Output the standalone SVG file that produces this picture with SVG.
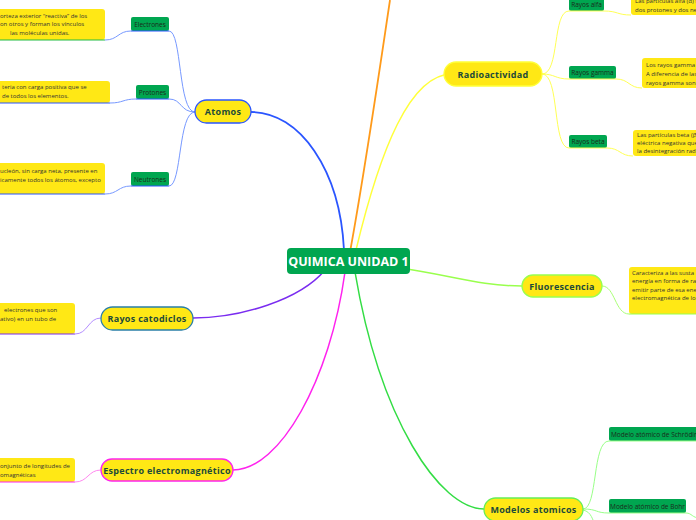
<svg xmlns="http://www.w3.org/2000/svg" width="696" height="520" viewBox="0 0 696 520">
<style>
.desc{fill:#ffe815}
.dt{font-family:"Open Sans","Liberation Sans",sans-serif;font-size:6px;fill:#333}
.sub{fill:#00a650}
.st{font-family:"Open Sans","Liberation Sans",sans-serif;font-size:6.5px;fill:#1b2a1b;text-anchor:middle}
.pt{font-family:"Open Sans","Liberation Sans",sans-serif;font-size:9px;font-weight:bold;fill:#1d4a3a;text-anchor:middle;letter-spacing:0.3px}
.pill{fill:#ffe815;stroke-width:1.3}
path{fill:none}
</style>
<rect width="696" height="520" fill="#ffffff"/>
<g id="connectors">
<path d="M344,250 C340,170 300,112 251,112" stroke="#2a55ff" stroke-width="1.8"/>
<path d="M350,252 C365,170 378,80 390,0" stroke="#ff9a1a" stroke-width="1.8"/>
<path d="M356,250 C380,150 410,74 452,74" stroke="#ffff3a" stroke-width="1.5"/>
<path d="M400,268 C450,275 480,286 522,286" stroke="#99ff4d" stroke-width="1.5"/>
<path d="M325,270 C300,300 240,318 193,318" stroke="#7a2cf0" stroke-width="1.5"/>
<path d="M345,272 C330,380 280,470 233,470" stroke="#ff22ee" stroke-width="1.5"/>
<path d="M355,272 C380,420 440,509 484,509" stroke="#33dd44" stroke-width="1.5"/>
<path d="M169,31 C182,31 178,112 195,112" stroke="#7799ff" stroke-width="1"/>
<path d="M169,99 C182,99 180,112 195,112" stroke="#7799ff" stroke-width="1"/>
<path d="M169,186 C182,186 178,112 195,112" stroke="#7799ff" stroke-width="1"/>
<path d="M131,31 C118,31 118,40 105,40" stroke="#7799ff" stroke-width="1"/>
<path d="M136,99 C123,99 123,103 110,103" stroke="#7799ff" stroke-width="1"/>
<path d="M131,186 C118,186 118,194 105,194" stroke="#7799ff" stroke-width="1"/>
<path d="M101,318 C88,318 88,334 75,334" stroke="#b38cff" stroke-width="1"/>
<path d="M101,470 C88,470 88,482 75,482" stroke="#ff88f0" stroke-width="1"/>
<path d="M542,74 C560,74 552,11 569,11" stroke="#ffff55" stroke-width="1"/>
<path d="M542,74 C555,74 555,79 569,79" stroke="#ffff55" stroke-width="1"/>
<path d="M542,74 C560,74 552,148 569,148" stroke="#ffff55" stroke-width="1"/>
<path d="M604,11 C618,11 617,15 631,15" stroke="#ffff55" stroke-width="1"/>
<path d="M616,79 C629,79 629,88 642,88" stroke="#ffff55" stroke-width="1"/>
<path d="M607,148 C620,148 620,156 633,156" stroke="#ffff55" stroke-width="1"/>
<path d="M602,286 C615,286 615,314 629,314" stroke="#aaff77" stroke-width="1"/>
<path d="M583,509 C598,509 592,441 609,441" stroke="#99ff88" stroke-width="1"/>
<path d="M583,509 C598,509 595,513 609,513" stroke="#99ff88" stroke-width="1"/>
<path d="M583,510 C592,512 592,520 596,526" stroke="#99ff88" stroke-width="1"/>
<path d="M686,513 C692,513 692,518 700,518" stroke="#99ff88" stroke-width="1"/>
</g>
<g id="central">
<rect x="287" y="248" width="123" height="26" rx="4" fill="#00a650"/>
<text x="348.5" y="265.5" font-family="'Open Sans','Liberation Sans',sans-serif" font-size="12.5" font-weight="bold" fill="#ffffff" text-anchor="middle">QUIMICA UNIDAD 1</text>
</g>
<g id="atomos">
<rect class="pill" x="195" y="100" width="56" height="23" rx="11.5" stroke="#2a55ff"/>
<text class="pt" x="223" y="115">Atomos</text>
</g>
<g id="electrones">
<rect class="sub" x="131" y="17" width="38" height="14" rx="2"/>
<line x1="131" y1="31" x2="169" y2="31" stroke="#2a55ff" stroke-width="1.2"/>
<text class="st" x="150" y="26.5">Electrones</text>
</g>
<g id="electrones-desc">
<rect class="desc" x="-10" y="9" width="115" height="31" rx="3"/>
<line x1="0" y1="40" x2="105" y2="40" stroke="#22bb44" stroke-width="1.2"/>
<text class="dt" x="0" y="17.5">orteza exterior “reactiva” de los</text>
<text class="dt" x="0" y="26">on otros y forman los vínculos</text>
<text class="dt" x="10" y="35">las moléculas unidas.</text>
</g>
<g id="protones">
<rect class="sub" x="136" y="85" width="33" height="14" rx="2"/>
<line x1="136" y1="99" x2="169" y2="99" stroke="#2a55ff" stroke-width="1.2"/>
<text class="st" x="152.5" y="94.5">Protones</text>
</g>
<g id="protones-desc">
<rect class="desc" x="-10" y="81" width="120" height="22" rx="3"/>
<line x1="0" y1="103" x2="110" y2="103" stroke="#2a55ff" stroke-width="1.2"/>
<text class="dt" x="2" y="89">teria con carga positiva que se</text>
<text class="dt" x="2" y="98">de todos los elementos.</text>
</g>
<g id="neutrones">
<rect class="sub" x="131" y="172" width="38" height="14" rx="2"/>
<line x1="131" y1="186" x2="169" y2="186" stroke="#2a55ff" stroke-width="1.2"/>
<text class="st" x="150" y="181.5">Neutrones</text>
</g>
<g id="neutrones-desc">
<rect class="desc" x="-10" y="163" width="115" height="31" rx="3"/>
<line x1="0" y1="194" x2="105" y2="194" stroke="#2a55ff" stroke-width="1.2"/>
<text class="dt" x="0" y="173">ucleón, sin carga neta, presente en</text>
<text class="dt" x="0" y="181.5">icamente todos los átomos, excepto</text>
</g>
<g id="rayos-catodiclos">
<rect class="pill" x="101" y="307" width="92" height="23" rx="11.5" stroke="#2a7fa8"/>
<text class="pt" x="147" y="322">Rayos catodiclos</text>
</g>
<g id="catodiclos-desc">
<rect class="desc" x="-10" y="303" width="85" height="31" rx="3"/>
<line x1="0" y1="334" x2="75" y2="334" stroke="#7a2cf0" stroke-width="1.2"/>
<text class="dt" x="4" y="312">electrones que son</text>
<text class="dt" x="0" y="321">ativo) en un tubo de</text>
</g>
<g id="espectro">
<rect class="pill" x="101" y="459" width="132" height="22" rx="11" stroke="#ff22ee"/>
<text class="pt" x="167" y="473.5">Espectro electromagnético</text>
</g>
<g id="espectro-desc">
<rect class="desc" x="-10" y="458" width="85" height="24" rx="3"/>
<line x1="0" y1="482" x2="75" y2="482" stroke="#ff22ee" stroke-width="1.2"/>
<text class="dt" x="0" y="468">onjunto de longitudes de</text>
<text class="dt" x="0" y="477">omagnéticas</text>
</g>
<g id="radioactividad">
<rect class="pill" x="444" y="62" width="98" height="24" rx="12" stroke="#ffff3a"/>
<text class="pt" x="493" y="77.5">Radioactividad</text>
</g>
<g id="rayos-alfa">
<rect class="sub" x="569" y="-3" width="35" height="14" rx="2"/>
<line x1="569" y1="11" x2="604" y2="11" stroke="#ffff55" stroke-width="1.2"/>
<text class="st" x="586.5" y="7">Rayos alfa</text>
</g>
<g id="alfa-desc">
<rect class="desc" x="631" y="-10" width="75" height="25" rx="3"/>
<text class="dt" x="635" y="3">Las partículas alfa (α) s</text>
<text class="dt" x="635" y="11.5">dos protones y dos ne</text>
</g>
<g id="rayos-gamma">
<rect class="sub" x="569" y="66" width="47" height="13" rx="2"/>
<line x1="569" y1="79" x2="616" y2="79" stroke="#ffff55" stroke-width="1.2"/>
<text class="st" x="592.5" y="74.5">Rayos gamma</text>
</g>
<g id="gamma-desc">
<rect class="desc" x="642" y="58" width="64" height="30" rx="3"/>
<text class="dt" x="646" y="67">Los rayos gamma</text>
<text class="dt" x="646" y="76">A diferencia de las</text>
<text class="dt" x="646" y="85">rayos gamma son</text>
</g>
<g id="rayos-beta">
<rect class="sub" x="569" y="135" width="38" height="13" rx="2"/>
<line x1="569" y1="148" x2="607" y2="148" stroke="#ffff55" stroke-width="1.2"/>
<text class="st" x="588" y="143.5">Rayos beta</text>
</g>
<g id="beta-desc">
<rect class="desc" x="633" y="130" width="73" height="26" rx="3"/>
<text class="dt" x="637" y="136.5">Las partículas beta (β</text>
<text class="dt" x="637" y="144.5">eléctrica negativa que</text>
<text class="dt" x="637" y="152.5">la desintegración rad</text>
</g>
<g id="fluorescencia">
<rect class="pill" x="522" y="275" width="80" height="22" rx="11" stroke="#99ff4d"/>
<text class="pt" x="562" y="289.5">Fluorescencia</text>
</g>
<g id="fluorescencia-desc">
<rect class="desc" x="629" y="267" width="77" height="47" rx="3"/>
<line x1="629" y1="314" x2="696" y2="314" stroke="#99ff4d" stroke-width="1.2"/>
<text class="dt" x="632" y="275">Caracteriza a las susta</text>
<text class="dt" x="632" y="283">energía en forma de ra</text>
<text class="dt" x="632" y="291.5">emitir parte de esa ene</text>
<text class="dt" x="632" y="300">electromagnética de lo</text>
</g>
<g id="modelos">
<rect class="pill" x="484" y="498" width="99" height="23" rx="11.5" stroke="#66ee55"/>
<text class="pt" x="533.5" y="512.5">Modelos atomicos</text>
</g>
<g id="schrodinger">
<rect class="sub" x="609" y="427" width="97" height="14" rx="2"/>
<line x1="609" y1="441" x2="696" y2="441" stroke="#99ff88" stroke-width="1.2"/>
<text class="st" x="611" y="436.5" style="text-anchor:start">Modelo atómico de Schrödinger</text>
</g>
<g id="bohr">
<rect class="sub" x="609" y="499" width="77" height="14" rx="2"/>
<line x1="609" y1="513" x2="686" y2="513" stroke="#99ff88" stroke-width="1.2"/>
<text class="st" x="647.5" y="508.5">Modelo atómico de Bohr</text>
</g>
</svg>
